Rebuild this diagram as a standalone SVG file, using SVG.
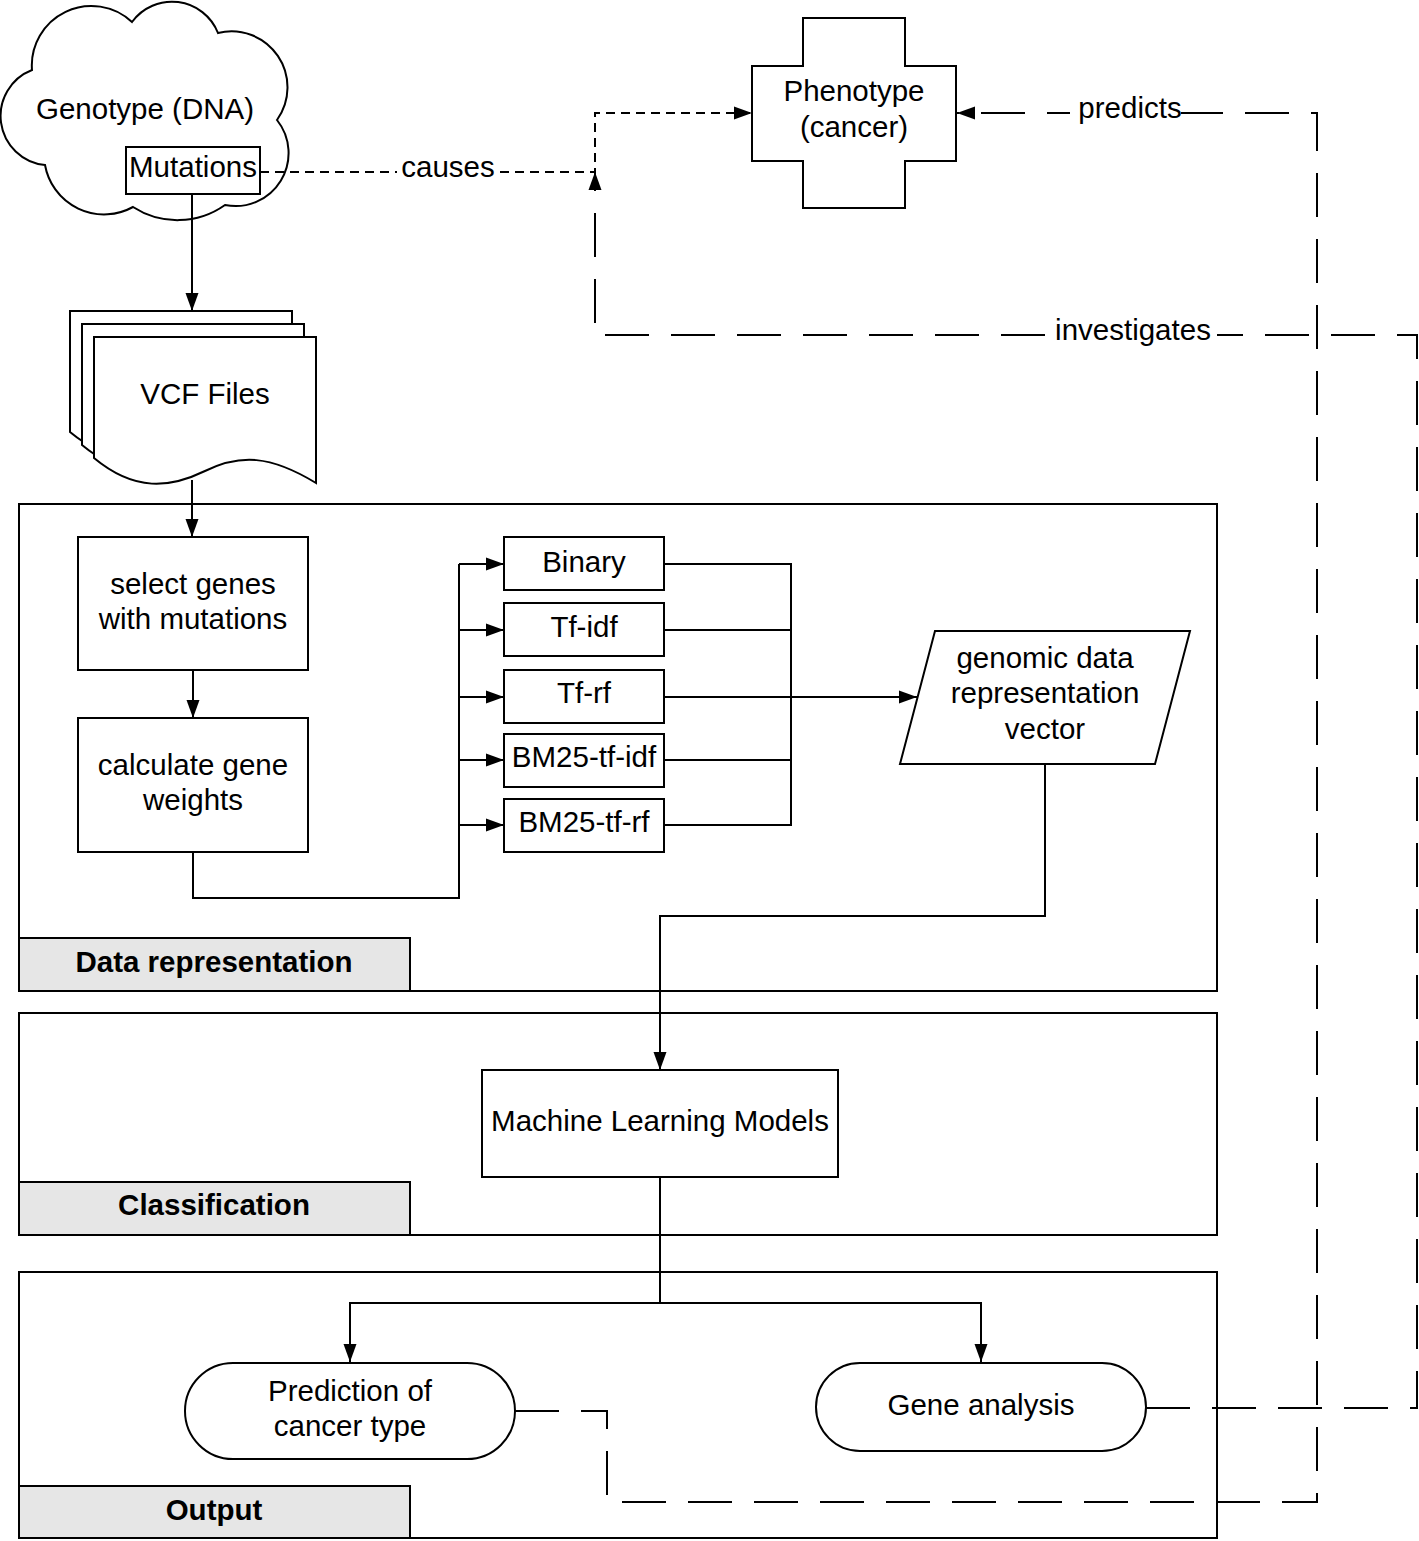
<svg xmlns="http://www.w3.org/2000/svg" width="1419" height="1541" viewBox="0 0 1419 1541">
<defs>
<style>
.s{fill:#fff;stroke:#000;stroke-width:2}
.lbl{fill:#e6e6e6;stroke:#000;stroke-width:2}
.c{fill:none;stroke:#000;stroke-width:2}
.d1{fill:none;stroke:#000;stroke-width:2;stroke-dasharray:9 6}
.d2{fill:none;stroke:#000;stroke-width:2;stroke-dasharray:44 22}
text{font-family:"Liberation Sans",Arial,sans-serif;font-size:29.5px;fill:#000;text-anchor:middle}
.b{font-weight:bold}
</style>
<marker id="ar" markerUnits="userSpaceOnUse" markerWidth="20" markerHeight="14" refX="18" refY="7" orient="auto">
<path d="M0,0.5 L18,7 L0,13.5 Z" fill="#000"/>
</marker>
</defs>
<rect x="0" y="0" width="1419" height="1541" fill="#fff"/>

<g id="container-data">
<rect class="s" x="19" y="504" width="1198" height="487"/>
<rect class="lbl" x="19" y="938" width="391" height="53"/>
<text class="b" x="214" y="972">Data representation</text>
</g>
<g id="container-classification">
<rect class="s" x="19" y="1013" width="1198" height="222"/>
<rect class="lbl" x="19" y="1182" width="391" height="53"/>
<text class="b" x="214" y="1215">Classification</text>
</g>
<g id="container-output">
<rect class="s" x="19" y="1272" width="1198" height="266"/>
<rect class="lbl" x="19" y="1486" width="391" height="52"/>
<text class="b" x="214" y="1520">Output</text>
</g>

<g id="genotype">
<path class="s" d="M32,70 A59.5,59.5 0 0 1 132,22 A49.5,49.5 0 0 1 218,33 A56,56 0 0 1 277,120 A53,53 0 0 1 225,205 A82,82 0 0 1 133,207 A60,60 0 0 1 45,165 A49.3,49.3 0 0 1 32,70 Z"/>
<text x="145" y="119">Genotype (DNA)</text>
</g>
<g id="mutations">
<rect class="s" x="126" y="147" width="134" height="47"/>
<text x="193" y="177">Mutations</text>
</g>

<g id="connectors">
<path class="c" d="M192,195 V311" marker-end="url(#ar)"/>
<path class="c" d="M192,480 V537" marker-end="url(#ar)"/>
<path class="c" d="M193,670 V718" marker-end="url(#ar)"/>
<path class="c" d="M193,852 V898 H459 V564"/>
<path class="c" d="M459,564 H504" marker-end="url(#ar)"/>
<path class="c" d="M459,630 H504" marker-end="url(#ar)"/>
<path class="c" d="M459,697 H504" marker-end="url(#ar)"/>
<path class="c" d="M459,760 H504" marker-end="url(#ar)"/>
<path class="c" d="M459,825 H504" marker-end="url(#ar)"/>
<path class="c" d="M664,564 H791 V825 H664"/>
<path class="c" d="M664,630 H791"/>
<path class="c" d="M664,760 H791"/>
<path class="c" d="M664,697 H917" marker-end="url(#ar)"/>
<path class="c" d="M1045,764 V916 H660 V1070" marker-end="url(#ar)"/>
<path class="c" d="M660,1177 V1303"/>
<path class="c" d="M660,1303 H350 V1362" marker-end="url(#ar)"/>
<path class="c" d="M660,1303 H981 V1362" marker-end="url(#ar)"/>
<path class="d1" d="M260,172 H595 V113 H752" marker-end="url(#ar)"/>
<path class="d2" d="M515,1411 H607 V1502 H1317 V113 H957" marker-end="url(#ar)"/>
<path class="d2" d="M1146,1408 H1417 V335 H595 V172" marker-end="url(#ar)"/>
<rect x="397" y="154" width="102" height="30" fill="#fff"/>
<text x="448" y="177">causes</text>
<rect x="1070" y="96" width="111" height="30" fill="#fff"/>
<text x="1130" y="118">predicts</text>
<rect x="1053" y="318" width="164" height="30" fill="#fff"/>
<text x="1133" y="340">investigates</text>
</g>

<g id="phenotype">
<path class="s" d="M803,18 H905 V66 H956 V161 H905 V208 H803 V161 H752 V66 H803 Z"/>
<text x="854" y="101">Phenotype</text>
<text x="854" y="137">(cancer)</text>
</g>

<g id="vcf">
<path class="s" transform="translate(-24,-26)" d="M94,337 H316 V483 C270,455 240,454 205,471 C170,488 135,492 94,458 Z"/>
<path class="s" transform="translate(-12,-13)" d="M94,337 H316 V483 C270,455 240,454 205,471 C170,488 135,492 94,458 Z"/>
<path class="s" d="M94,337 H316 V483 C270,455 240,454 205,471 C170,488 135,492 94,458 Z"/>
<text x="205" y="404">VCF Files</text>
</g>

<g id="select-genes">
<rect class="s" x="78" y="537" width="230" height="133"/>
<text x="193" y="594">select genes</text>
<text x="193" y="629">with mutations</text>
</g>
<g id="calc-weights">
<rect class="s" x="78" y="718" width="230" height="134"/>
<text x="193" y="775">calculate gene</text>
<text x="193" y="810">weights</text>
</g>

<g id="binary"><rect class="s" x="504" y="537" width="160" height="53"/><text x="584" y="572">Binary</text></g>
<g id="tf-idf"><rect class="s" x="504" y="603" width="160" height="53"/><text x="584" y="637">Tf-idf</text></g>
<g id="tf-rf"><rect class="s" x="504" y="670" width="160" height="53"/><text x="584" y="703">Tf-rf</text></g>
<g id="bm25-tf-idf"><rect class="s" x="504" y="734" width="160" height="53"/><text x="584" y="767">BM25-tf-idf</text></g>
<g id="bm25-tf-rf"><rect class="s" x="504" y="799" width="160" height="53"/><text x="584" y="832">BM25-tf-rf</text></g>

<g id="vector">
<path class="s" d="M935,631 H1190 L1155,764 H900 Z"/>
<text x="1045" y="668">genomic data</text>
<text x="1045" y="703">representation</text>
<text x="1045" y="739">vector</text>
</g>

<g id="ml-models">
<rect class="s" x="482" y="1070" width="356" height="107"/>
<text x="660" y="1131">Machine Learning Models</text>
</g>

<g id="prediction">
<rect class="s" x="185" y="1363" width="330" height="96" rx="48" ry="48"/>
<text x="350" y="1401">Prediction of</text>
<text x="350" y="1436">cancer type</text>
</g>
<g id="gene-analysis">
<rect class="s" x="816" y="1363" width="330" height="88" rx="44" ry="44"/>
<text x="981" y="1415">Gene analysis</text>
</g>
</svg>
